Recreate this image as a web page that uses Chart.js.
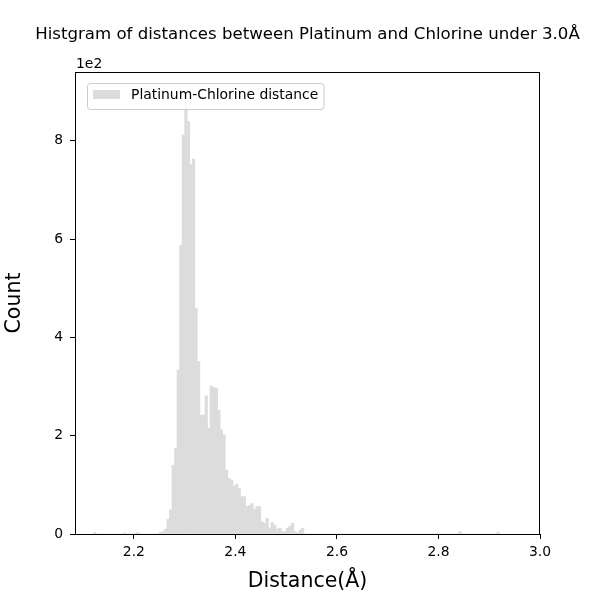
<!DOCTYPE html>
<html>
<head>
<meta charset="utf-8">
<script src="https://cdn.jsdelivr.net/npm/chart.js@4"></script>
<style>
  html, body { margin: 0; padding: 0; background: #fff; }
  #wrap { width: 600px; height: 600px; }
</style>
</head>
<body>
<div id="wrap"><canvas id="histChart" width="600" height="600"></canvas></div>
<script>
// histogram bins, 0.005 wide
const binWidth = 0.005;
const firstBin = 2.12;
const binCount = 160;

// the dense part of the histogram, starting at 2.25
const mainStart = 2.25;
const mainCounts = [3, 5, 10, 30, 49, 140, 174, 334, 587, 812, 877, 839, 751, 763, 459, 351,
    242, 242, 281, 215, 301, 298, 297, 252, 212, 202, 130, 113, 110, 98, 101, 93, 76, 76,
    56, 58, 62, 50, 56, 56, 25, 22, 32, 12, 23, 18, 10, 12, 5, 5, 12, 16, 22, 5, 2, 8, 12];

// lone bins far from the peak
const outlierBins = [2.12, 2.18, 2.205, 2.84, 2.915];
const outlierCounts = [3, 2, 3, 5, 4];

const yTicks = [0, 200, 400, 600, 800];
const xTicks = [2.2, 2.4, 2.6, 2.8, 3.0];

const counts = new Array(binCount).fill(0);
mainCounts.forEach((c, i) => {
    counts[Math.round((mainStart - firstBin) / binWidth) + i] = c;
});
outlierBins.forEach((b, i) => {
    counts[Math.round((b - firstBin) / binWidth)] = outlierCounts[i];
});
const points = counts.map((c, i) => ({ x: firstBin + binWidth * (i + 0.5), y: c }));

const FONT = "'DejaVu Sans', sans-serif";
Chart.defaults.color = '#000';
Chart.defaults.font.family = FONT;

const decorations = {
    id: 'decorations',
    afterDraw(chart) {
        const ctx = chart.ctx;
        const a = chart.chartArea;
        ctx.save();
        // frame on all four sides
        ctx.strokeStyle = '#000';
        ctx.lineWidth = 1;
        ctx.strokeRect(Math.round(a.left) + 0.5, Math.round(a.top) + 0.5,
            Math.round(a.right - a.left) - 1, Math.round(a.bottom - a.top));

        // title
        ctx.fillStyle = '#000';
        ctx.font = '16.6px ' + FONT;
        ctx.textAlign = 'center';
        ctx.textBaseline = 'middle';
        ctx.fillText('Histgram of distances between Platinum and Chlorine under 3.0\u00c5',
            (a.left + a.right) / 2, 35);

        // axis offset text
        ctx.font = '13.9px ' + FONT;
        ctx.textAlign = 'left';
        ctx.textBaseline = 'alphabetic';
        ctx.fillText('1e2', a.left + 1, 68);

        // legend
        const lx = 87.5, ly = 83.5, lw = 236.5, lh = 26;
        ctx.beginPath();
        ctx.roundRect(lx, ly, lw, lh, 3);
        ctx.fillStyle = 'rgba(255,255,255,0.8)';
        ctx.fill();
        ctx.strokeStyle = '#cccccc';
        ctx.stroke();
        ctx.fillStyle = '#dcdcdc';
        ctx.fillRect(93, 90, 27, 9);
        ctx.fillStyle = '#000';
        ctx.textBaseline = 'middle';
        ctx.fillText('Platinum-Chlorine distance', 131, 95.5);
        ctx.restore();
    }
};

new Chart(document.getElementById('histChart'), {
    type: 'bar',
    data: {
        datasets: [{
            label: 'Platinum-Chlorine distance',
            data: points,
            backgroundColor: '#dcdcdc',
            borderWidth: 0,
            barPercentage: 1,
            categoryPercentage: 1,
            grouped: false
        }]
    },
    options: {
        responsive: false,
        animation: false,
        layout: { padding: { top: 72, right: 60, left: 0, bottom: 0 } },
        plugins: {
            legend: { display: false },
            tooltip: { enabled: false }
        },
        scales: {
            x: {
                type: 'linear',
                min: 2.084,
                max: 3.0,
                offset: false,
                afterFit: s => { s.height = 66; },
                afterBuildTicks: s => { s.ticks = xTicks.map(v => ({ value: v })); },
                ticks: {
                    padding: 5,
                    font: { size: 13.9 },
                    callback: v => v.toFixed(1)
                },
                grid: { offset: false, drawOnChartArea: false, drawTicks: true, tickLength: 5, tickColor: '#000' },
                border: { display: true, color: '#000' },
                title: {
                    display: true,
                    text: 'Distance(\u00c5)',
                    font: { size: 20.5 },
                    padding: { top: 0, bottom: 6 }
                }
            },
            y: {
                min: 0,
                max: 940,
                afterFit: s => { s.width = 75; },
                afterBuildTicks: s => { s.ticks = yTicks.map(v => ({ value: v })); },
                ticks: {
                    padding: 7,
                    font: { size: 13.9 },
                    callback: v => String(v / 100)
                },
                grid: { drawOnChartArea: false, drawTicks: true, tickLength: 5, tickColor: '#000' },
                border: { display: true, color: '#000' },
                title: {
                    display: true,
                    text: 'Count',
                    font: { size: 20.5 },
                    padding: { top: 2, bottom: 0 }
                }
            }
        }
    },
    plugins: [decorations]
});
</script>
</body>
</html>
